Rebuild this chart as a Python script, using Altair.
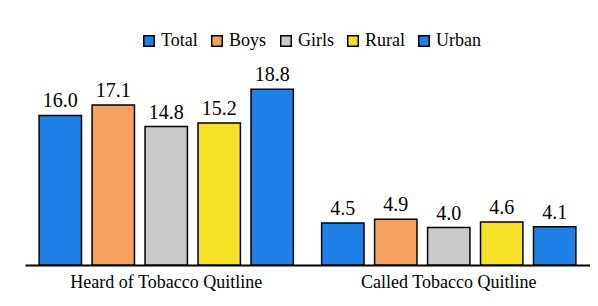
import altair as alt
import pandas as pd

groups = ["Heard of Tobacco Quitline", "Called Tobacco Quitline"]
series = ["Total", "Boys", "Girls", "Rural", "Urban"]
heard = [16.0, 17.1, 14.8, 15.2, 18.8]
called = [4.5, 4.9, 4.0, 4.6, 4.1]
colors = ["#1f80e8", "#f6a25e", "#c9c9c9", "#f7e126", "#1f80e8"]

rows = []
for g, vals in zip(groups, [heard, called]):
    for s, v in zip(series, vals):
        rows.append({"group": g, "series": s, "value": v})
df = pd.DataFrame(rows)

font = "Liberation Serif"

base = alt.Chart(df).encode(
    x=alt.X("group:N", sort=groups, title=None,
            scale=alt.Scale(paddingInner=0.1, paddingOuter=0.05),
            axis=alt.Axis(labelAngle=0, ticks=False, domainColor="black",
                          domainWidth=2, labelFont=font, labelFontSize=18,
                          labelColor="black", labelPadding=8, labelLimit=0)),
    xOffset=alt.XOffset("series:N", sort=series,
                        scale=alt.Scale(paddingInner=0.2)),
    y=alt.Y("value:Q", scale=alt.Scale(domain=[0, 20]), axis=None),
)

bars = base.mark_bar(stroke="black", strokeWidth=1.5).encode(
    color=alt.Color("series:N", sort=series,
                    scale=alt.Scale(domain=series, range=colors),
                    legend=alt.Legend(title=None, orient="none", direction="horizontal",
                                      legendX=115, legendY=-46, columns=5,
                                      symbolType="square", symbolSize=110,
                                      symbolStrokeColor="black", symbolStrokeWidth=1.5,
                                      labelFont=font, labelFontSize=18,
                                      labelColor="black", columnPadding=10,
                                      labelOffset=3))
)

labels = base.mark_text(dy=-14, font=font, fontSize=20, color="black").encode(
    text=alt.Text("value:Q", format=".1f")
)

chart = alt.layer(bars, labels).properties(
    width=565, height=187,
    padding={"left": 17, "top": 24, "right": 0, "bottom": 5},
).configure(background="white", font=font).configure_view(stroke=None).configure_legend(
    labelFont=font).configure_axis(labelFont=font)

chart.save("out.html", embed_options={"renderer": "svg", "actions": False})
